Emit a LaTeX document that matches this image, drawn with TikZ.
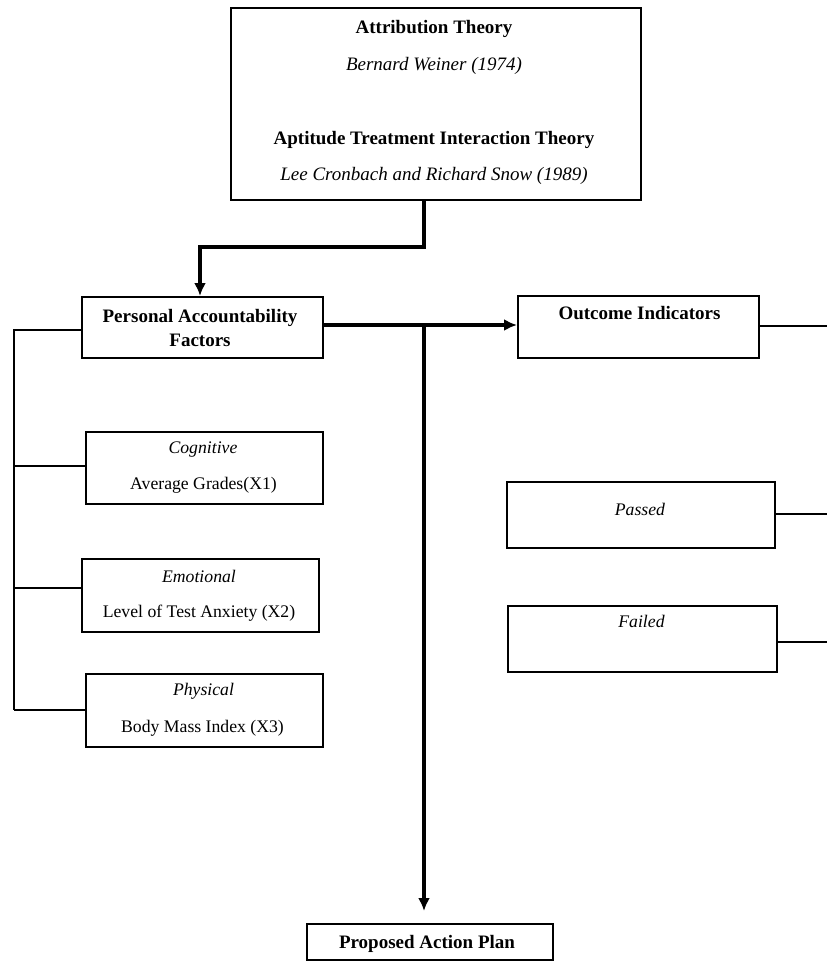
\documentclass[tikz,border=0pt]{standalone}
\usepackage{fontspec}
\setmainfont{Liberation Serif}
\usetikzlibrary{arrows.meta}
\begin{document}
\begin{tikzpicture}[x=1pt,y=-1pt,
  box/.style={draw, line width=2pt, inner sep=0pt},
  txt/.style={anchor=base, inner sep=0pt},
  bt/.style={txt, font=\fontsize{19}{23}\selectfont\bfseries},
  bit/.style={txt, font=\fontsize{19}{23}\selectfont\itshape},
  rt/.style={txt, font=\fontsize{17.7}{22}\selectfont},
  sit/.style={txt, font=\fontsize{17.7}{22}\selectfont\itshape},
  arr/.style={line width=3.2pt, -{Latex[length=13pt,width=12pt]}},
  link/.style={line width=2pt}]
\useasboundingbox (0,0) rectangle (827,961);

% boxes
\node[box, minimum width=410pt, minimum height=192pt] (top) at (436,104) {};
\node[box, minimum width=241pt, minimum height=61pt] (paf) at (202.5,327.5) {};
\node[box, minimum width=241pt, minimum height=62pt] (out) at (638.5,327) {};
\node[box, minimum width=237pt, minimum height=72pt] (cog) at (204.5,468) {};
\node[box, minimum width=237pt, minimum height=73pt] (emo) at (200.5,595.5) {};
\node[box, minimum width=237pt, minimum height=73pt] (phy) at (204.5,710.5) {};
\node[box, minimum width=268pt, minimum height=66pt] (pas) at (641,515) {};
\node[box, minimum width=269pt, minimum height=66pt] (fai) at (642.5,639) {};
\node[box, minimum width=246pt, minimum height=36pt] (plan) at (430,942) {};

% texts
\node[bt]  (t1) at (434,33)  {Attribution Theory};
\node[bit] (t2) at (434,70)  {Bernard Weiner (1974)};
\node[bt]  (t3) at (434,144) {Aptitude Treatment Interaction Theory};
\node[bit] (t4) at (434,180) {Lee Cronbach and Richard Snow (1989)};
\node[bt]  (p1) at (200,322) {Personal Accountability};
\node[bt]  (p2) at (200,346) {Factors};
\node[bt]  (o1) at (639.5,319) {Outcome Indicators};
\node[sit] (c1) at (203,453) {Cognitive};
\node[rt]  (c2) at (203.5,489) {Average Grades(X1)};
\node[sit] (e1) at (199,582) {Emotional};
\node[rt]  (e2) at (199,617) {Level of Test Anxiety (X2)};
\node[sit] (h1) at (203.5,695) {Physical};
\node[rt]  (h2) at (202.5,732) {Body Mass Index (X3)};
\node[sit] (s1) at (640,515) {Passed};
\node[sit] (f1) at (641.5,627) {Failed};
\node[bt]  (a1) at (427,948) {Proposed Action Plan};

% helper coordinates
\coordinate (v) at (424,325);
\coordinate (elb) at (200,247);
\coordinate (lb) at (14,330);
\coordinate (re) at (827,0);

% connectors
\draw[arr] (top.south -| v) |- (elb) -- (elb |- paf.north);
\draw[arr] (paf.east |- v) -- (out.west |- v);
\draw[arr, shorten >=12pt] (v) -- (plan.north -| v);

\draw[link] (paf.west |- lb) -- (lb) -- (lb |- 0,710);
\draw[link] (lb |- 0,466) -- (cog.west |- 0,466);
\draw[link] (lb |- 0,588) -- (emo.west |- 0,588);
\draw[link] (lb |- 0,710) -- (phy.west |- 0,710);

\draw[link] (out.east |- 0,326) -- (re |- 0,326);
\draw[link] (pas.east |- 0,514) -- (re |- 0,514);
\draw[link] (fai.east |- 0,642) -- (re |- 0,642);
\end{tikzpicture}
\end{document}
